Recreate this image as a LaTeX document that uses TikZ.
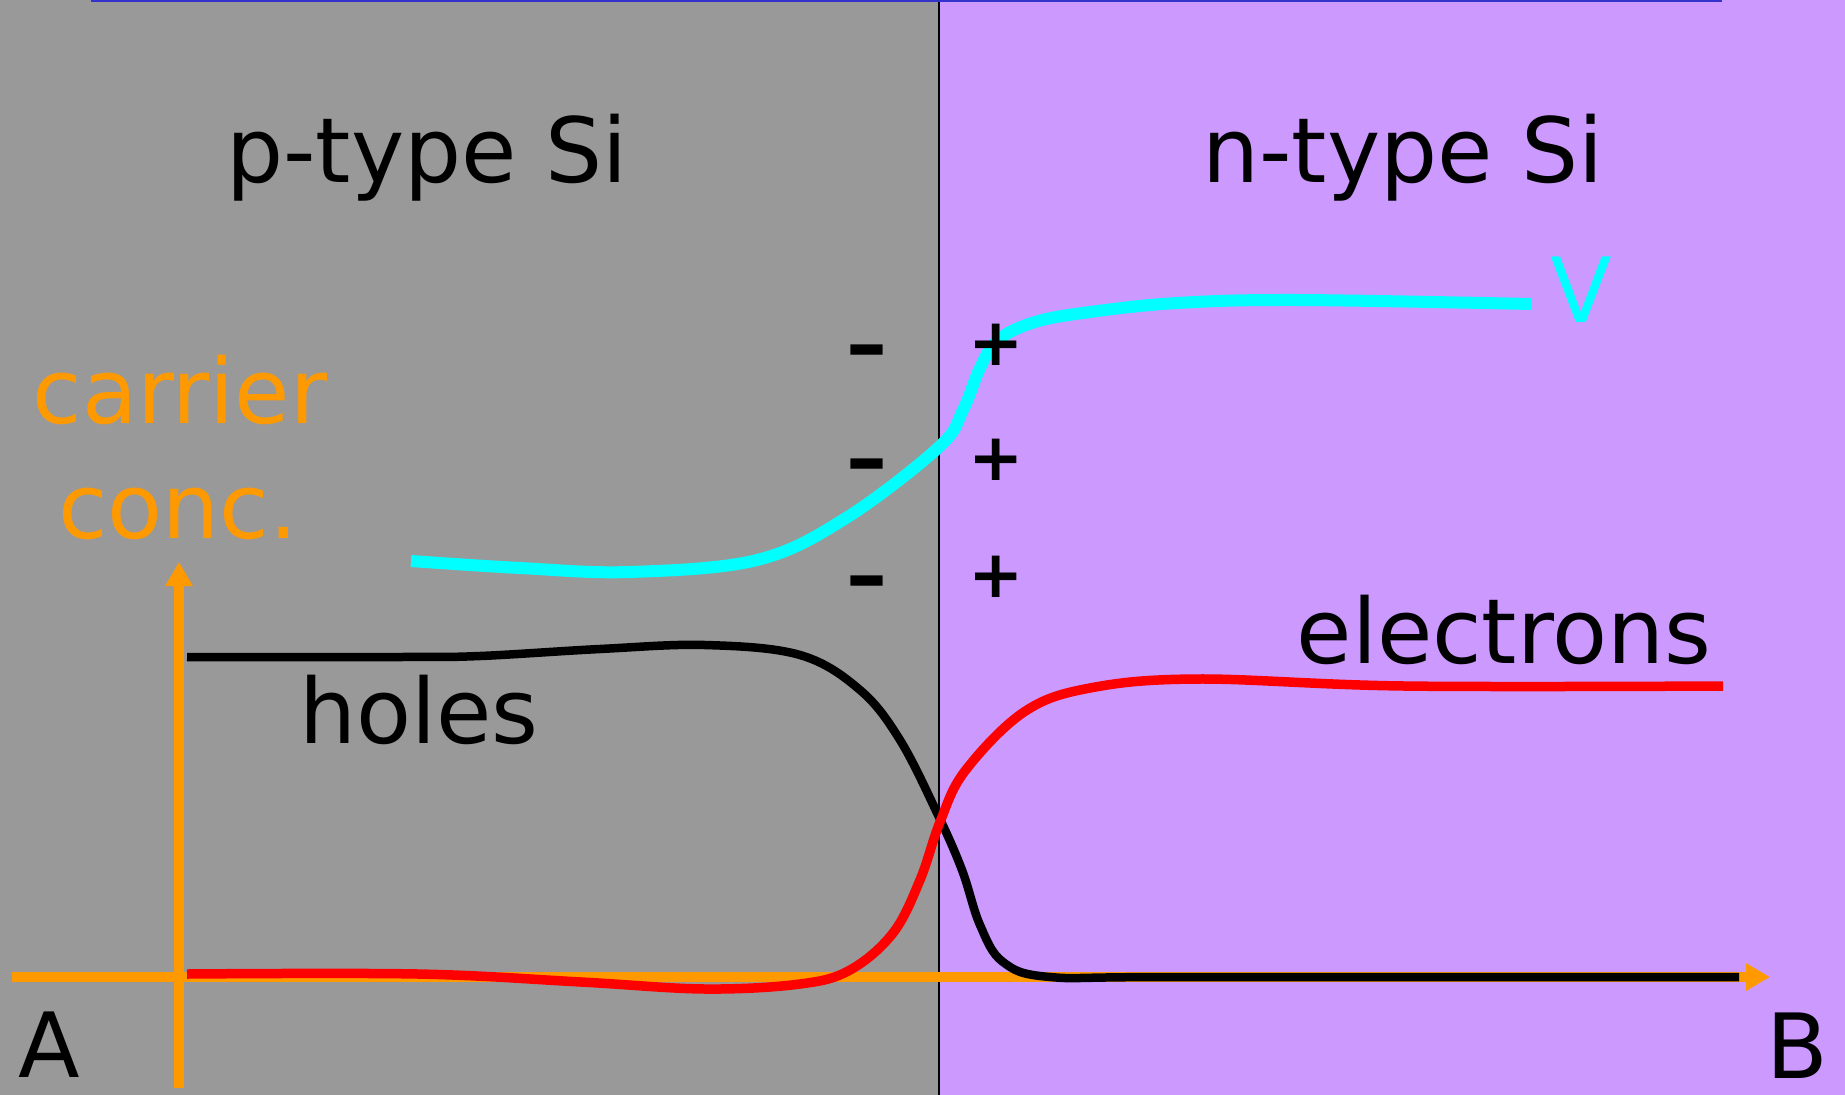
\documentclass[tikz,border=0pt]{standalone}
\usepackage{fontspec}
\setmainfont{DejaVu Sans}
\usetikzlibrary{arrows.meta}
\definecolor{pgray}{HTML}{999999}
\definecolor{npurple}{HTML}{CC99FF}
\definecolor{axisorange}{HTML}{FF9900}
\definecolor{topblue}{HTML}{3333CC}
\definecolor{vcyan}{HTML}{00FFFF}
\definecolor{ered}{HTML}{FF0000}
\begin{document}
\begin{tikzpicture}[x=1pt,y=-1pt,
  lbl/.style={font=\fontsize{90}{100}\selectfont, inner sep=0pt, anchor=base},
  sign/.style={font=\fontsize{66}{66}\selectfont\bfseries, inner sep=0pt, anchor=base},
  minussign/.style={font=\fontsize{82}{82}\selectfont\bfseries, inner sep=0pt, anchor=base},
  axis/.style={draw=axisorange, line width=10pt, -{Triangle[length=24pt,width=26pt]}},
  holecurve/.style={draw=black, line width=8.5pt},
  eleccurve/.style={draw=ered, line width=9.5pt},
  vcurve/.style={draw=vcyan, line width=12pt}]
\useasboundingbox (0,0) rectangle (1845,1095);
% regions
\fill[pgray] (0,0) rectangle (939,1095);
\fill[npurple] (939,0) rectangle (1845,1095);
\coordinate (divtop) at (939,0);
\coordinate (divbot) at (939,1095);
\draw[line width=2pt] (divtop) -- (divbot);
\coordinate (bluel) at (91,1);
\coordinate (bluer) at (1722,1);
\draw[topblue, line width=2.5pt] (bluel) -- (bluer);
% axes
\coordinate (xstart) at (12,977);
\coordinate (xend) at (1770,977);
\coordinate (ystart) at (179,1088);
\coordinate (yend) at (179,562);
\draw[axis] (xstart) -- (xend);
\draw[axis] (ystart) -- (yend);
% holes
\draw[holecurve] plot[smooth, tension=0.6] coordinates {(187,657) (400,657) (480,656) (600,649) (705,645) (800,655) (860,690) (900,740) (938,815) (962,870) (980,925) (1003,962) (1050,977) (1180,977) (1739,977)};
% electrons
\draw[eleccurve] plot[smooth, tension=0.6] coordinates {(187,974) (418,974) (581,982) (705,989) (800,984) (850,970) (893,933) (920,880) (940,822) (965,771) (1024,712) (1090,688) (1198,679) (1404,686) (1723,686)};
% potential
\draw[vcurve] plot[smooth, tension=0.6] coordinates {(411,561) (520,568) (629,572) (757,560) (846,518) (939,447) (963,410) (980,368) (998,340) (1035,322) (1090,312) (1177,303) (1296,300) (1531,304)};
% labels
\node[lbl] (ptype) at (427,182) {p-type Si};
\node[lbl] (ntype) at (1403,182) {n-type Si};
\node[lbl, text=axisorange] (carrier) at (180,423) {carrier};
\node[lbl, text=axisorange] (conc) at (178,538) {conc.};
\node[lbl] (holes) at (419,743) {holes};
\node[lbl] (electrons) at (1504,663) {electrons};
\node[lbl, text=vcyan] (vlabel) at (1581,322) {V};
\node[lbl] (alabel) at (49,1077) {A};
\node[lbl] (blabel) at (1797,1078) {B};
% charges
\node[minussign] (m1) at (867,372) {–};
\node[minussign] (m2) at (867,486) {–};
\node[minussign] (m3) at (867,603) {–};
\node[sign] (p1) at (996,365) {+};
\node[sign] (p2) at (996,480) {+};
\node[sign] (p3) at (996,597) {+};
\end{tikzpicture}
\end{document}
